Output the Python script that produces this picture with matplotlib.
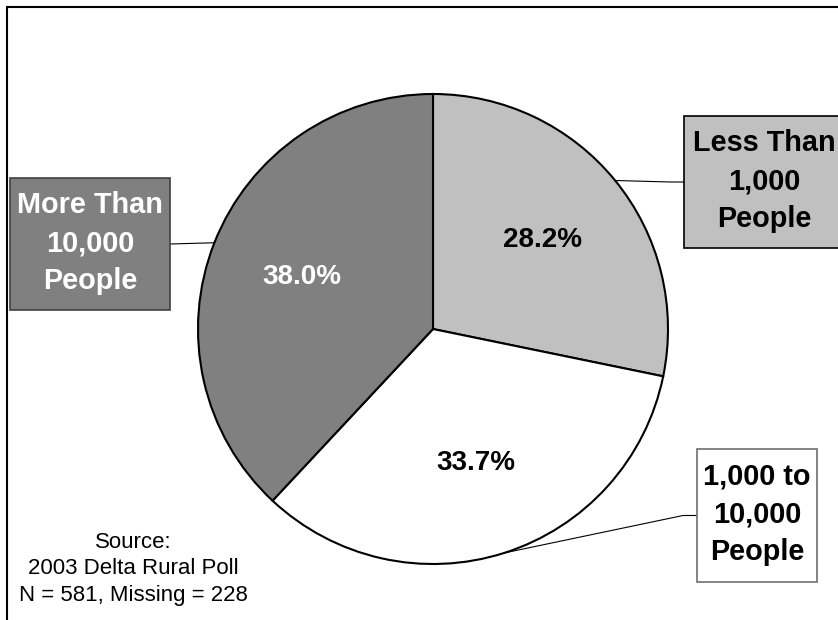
import matplotlib.pyplot as plt
import numpy as np
from matplotlib.patches import Rectangle

plt.rcParams['font.family'] = ['Liberation Sans', 'DejaVu Sans']

# community size of respondents
categories = ['Less Than\n1,000\nPeople', '1,000 to\n10,000\nPeople', 'More Than\n10,000\nPeople']
shares = [28.2, 33.7, 38.0]
slice_colors = ['#c0c0c0', '#ffffff', '#808080']
pct_colors = ['black', 'black', 'white']
source_note = 'Source:\n2003 Delta Rural Poll\nN = 581, Missing = 228'

W, H = 838, 620
fig = plt.figure(figsize=(W / 100, H / 100), dpi=100)
ax = fig.add_axes([0, 0, 1, 1])

cx, cy, r = 433, H - 329, 235
wedges, _, pcts = ax.pie(shares, colors=slice_colors, startangle=90, counterclock=False,
                         center=(cx, cy), radius=r, autopct='%.1f%%', pctdistance=0.6,
                         wedgeprops=dict(edgecolor='black', linewidth=1.5),
                         textprops=dict(fontsize=20, fontweight='bold'), frame=True)
for t, c in zip(pcts, pct_colors):
    t.set_color(c)

ax.set_xlim(0, W)
ax.set_ylim(0, H)
ax.set_aspect('equal')
ax.axis('off')

# label boxes: left, top (from top of figure), width, height, face, edge, text colour
boxes = [
    (684, 116, 160, 132, '#c0c0c0', 'black', 'black'),
    (697, 449, 120, 133, 'white', '#707070', 'black'),
    (10, 178, 160, 132, '#808080', '#404040', 'white'),
]

for w, label, (bx, by, bw, bh, fc, ec, tc) in zip(wedges, categories, boxes):
    y0 = H - by - bh
    ax.add_patch(Rectangle((bx, y0), bw, bh, facecolor=fc, edgecolor=ec, lw=1.2, zorder=3))
    ax.text(bx + bw / 2, y0 + bh / 2 + 1, label, ha='center', va='center', fontsize=20.8,
            fontweight='bold', color=tc, linespacing=1.45, zorder=4)

    # leader line from the middle of the slice's arc to the box
    mid = np.deg2rad((w.theta1 + w.theta2) / 2)
    px, py = cx + r * np.cos(mid), cy + r * np.sin(mid)
    ymid = y0 + bh / 2
    if bx > cx:
        if px < bx - 60:
            ax.plot([px, bx - 14, bx], [py, ymid, ymid], color='black', lw=0.8, zorder=2)
        else:
            ax.plot([px, bx], [py, ymid], color='black', lw=0.8, zorder=2)
    else:
        ax.plot([bx + bw, px], [ymid, py], color='black', lw=0.8, zorder=2)

ax.text(133, H - 569, source_note, ha='center', va='center', fontsize=16,
        linespacing=1.36)

# outer chart frame, runs off the right and bottom edges
ax.add_patch(Rectangle((6.5, -20), W, H - 7 + 20, fill=False, edgecolor='black',
                       lw=1.5, clip_on=False))

fig.savefig('out.png', dpi=100)
